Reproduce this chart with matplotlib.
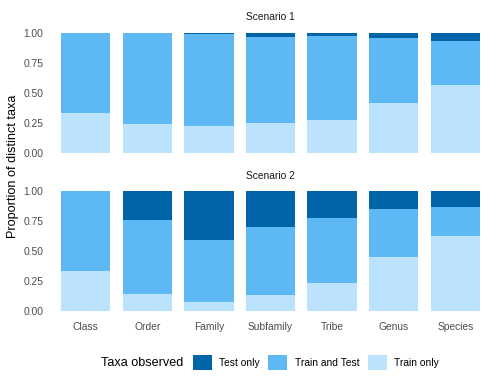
import matplotlib
matplotlib.use("Agg")
import matplotlib.pyplot as plt
from matplotlib.patches import Patch
import numpy as np

plt.rcParams['font.family'] = ['Liberation Sans', 'DejaVu Sans']

categories = ["Class", "Order", "Family", "Subfamily", "Tribe", "Genus", "Species"]
series_names = ["Test only", "Train and Test", "Train only"]
colors = {"Test only": "#0064A8", "Train and Test": "#5EB8F4", "Train only": "#BBE3FD"}

# Scenario 1 proportions
s1_train_only = [0.333, 0.238, 0.222, 0.247, 0.272, 0.412, 0.565]
s1_test_only = [0.0, 0.0, 0.01, 0.03, 0.022, 0.04, 0.067]
s1_train_test = [1 - a - b for a, b in zip(s1_train_only, s1_test_only)]

# Scenario 2 proportions
s2_train_only = [0.334, 0.14, 0.073, 0.134, 0.231, 0.446, 0.622]
s2_test_only = [0.0, 0.24, 0.41, 0.30, 0.223, 0.154, 0.137]
s2_train_test = [1 - a - b for a, b in zip(s2_train_only, s2_test_only)]

W, H = 498, 386
DPI = 72
fig = plt.figure(figsize=(W / DPI, H / DPI), dpi=DPI)

SMALL = 10.2
BIG = 12.6

left_px, right_px = 48.7, 492.3
panels = [
    ("Scenario 1", 27.0, 158.5, s1_train_only, s1_train_test, s1_test_only, 17.0),
    ("Scenario 2", 185.0, 316.7, s2_train_only, s2_train_test, s2_test_only, 176.0),
]

x = np.arange(1, len(categories) + 1)
for i, (title, top, bot, tr, tt, te, ty) in enumerate(panels):
    ax = fig.add_axes([left_px / W, 1 - bot / H, (right_px - left_px) / W, (bot - top) / H])
    ax.bar(x, tr, width=0.8, color=colors["Train only"], linewidth=0)
    ax.bar(x, tt, width=0.8, bottom=tr, color=colors["Train and Test"], linewidth=0)
    ax.bar(x, te, width=0.8, bottom=np.array(tr) + np.array(tt), color=colors["Test only"], linewidth=0)
    ax.set_xlim(0.4, len(categories) + 0.6)
    ax.set_ylim(-0.05, 1.05)
    ax.set_yticks([0, 0.25, 0.5, 0.75, 1.0])
    ax.set_yticklabels(["0.00", "0.25", "0.50", "0.75", "1.00"])
    ax.set_xticks(x)
    if i == 1:
        ax.set_xticklabels(categories)
    else:
        ax.set_xticklabels([])
    ax.tick_params(axis='both', length=0, labelsize=SMALL, labelcolor="#4D4D4D")
    ax.tick_params(axis='y', pad=5.5)
    ax.tick_params(axis='x', pad=5)
    for sp in ax.spines.values():
        sp.set_visible(False)
    ax.set_facecolor("none")
    fig.text((left_px + right_px) / 2 / W, 1 - ty / H, title, ha="center", va="center",
             fontsize=SMALL, color="#1A1A1A")

fig.text(13 / W, 1 - 166 / H, "Proportion of distinct taxa", rotation=90,
         ha="center", va="center", fontsize=BIG, color="black")

fig.text(101 / W, 1 - 363.3 / H, "Taxa observed", ha="left", va="center", fontsize=BIG)
handles = [Patch(facecolor=colors[n], edgecolor="none", label=n) for n in series_names]
fig.legend(handles=handles, loc="center left", bbox_to_anchor=(192.7 / W, 1 - 362.5 / H),
           ncol=3, frameon=False, fontsize=SMALL, handlelength=1.86, handleheight=1.86,
           handletextpad=0.75, columnspacing=0.81, borderpad=0, borderaxespad=0)

fig.savefig("out.png", dpi=DPI)
